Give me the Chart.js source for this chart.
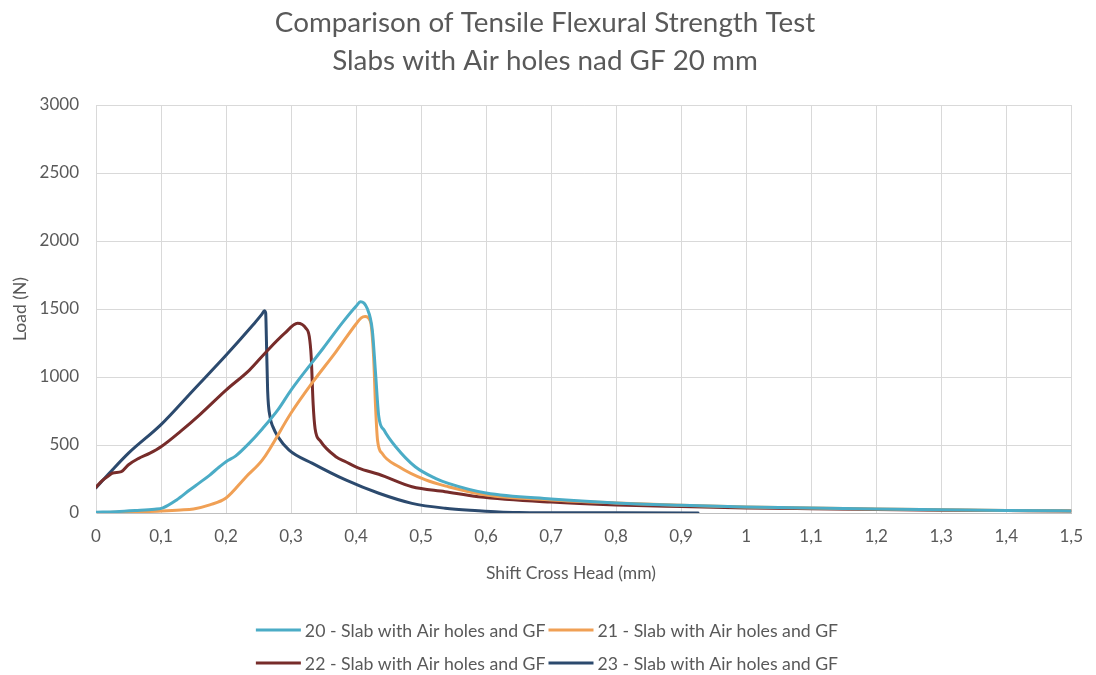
<!DOCTYPE html>
<html>
<head>
<meta charset="utf-8">
<script src="https://cdn.jsdelivr.net/npm/chart.js@4/dist/chart.umd.min.js"></script>
<style>
  html, body { margin: 0; padding: 0; background: #ffffff; }
  #wrap { width: 1096px; height: 675px; position: relative; }
</style>
</head>
<body>
<div id="wrap"><canvas id="chart" width="1096" height="675"></canvas></div>
<script>
// Series labels
const seriesNames = [
  '20 - Slab with Air holes and GF',
  '21 - Slab with Air holes and GF',
  '22 - Slab with Air holes and GF',
  '23 - Slab with Air holes and GF'
];
const seriesColors = ['#4BACC6', '#F0A055', '#772C2A', '#2C4A6E'];

// Shift cross head (mm) / load (N) for each slab
const shift20 = [0, 0.03, 0.06, 0.09, 0.103, 0.124, 0.144, 0.16, 0.175, 0.19, 0.2, 0.215, 0.235, 0.256, 0.28, 0.3, 0.35, 0.38, 0.4, 0.407, 0.417, 0.425, 0.43, 0.435, 0.443, 0.461, 0.491, 0.522, 0.542, 0.6, 0.7, 0.8, 0.9, 1.0, 1.1, 1.2, 1.3, 1.4, 1.5];
const load20  = [5, 10, 18, 28, 38, 96, 169, 225, 279, 340, 377, 420, 510, 620, 760, 904, 1215, 1405, 1520, 1553, 1505, 1345, 1027, 708, 610, 487, 340, 255, 218, 147, 103, 74, 57, 44, 36, 29, 24, 19, 15];

const shift21 = [0, 0.05, 0.1, 0.13, 0.15, 0.175, 0.2, 0.231, 0.256, 0.3, 0.333, 0.369, 0.4, 0.408, 0.414, 0.422, 0.427, 0.43, 0.433, 0.44, 0.466, 0.507, 0.542, 0.6, 0.7, 0.8, 0.9, 1.0, 1.1, 1.2, 1.3, 1.4, 1.5];
const load21  = [3, 8, 15, 22, 30, 60, 110, 267, 390, 735, 960, 1185, 1390, 1435, 1444, 1410, 1149, 781, 537, 439, 340, 243, 193, 132, 96, 74, 57, 44, 36, 29, 24, 19, 15];

const shift22 = [0, 0.01, 0.021, 0.026, 0.039, 0.05, 0.065, 0.083, 0.1, 0.13, 0.159, 0.2, 0.236, 0.262, 0.29, 0.31, 0.323, 0.328, 0.331, 0.334, 0.337, 0.345, 0.369, 0.384, 0.404, 0.435, 0.486, 0.537, 0.588, 0.7, 0.8, 0.9, 1.0, 1.1, 1.2, 1.3, 1.4, 1.5];
const load22  = [190, 240, 279, 294, 304, 355, 400, 440, 487, 600, 720, 904, 1051, 1186, 1320, 1395, 1358, 1300, 1150, 800, 620, 530, 414, 377, 330, 285, 193, 157, 120, 80, 59, 47, 37, 31, 26, 21, 18, 15];

const shift23 = [0, 0.02, 0.05, 0.1, 0.15, 0.2, 0.24, 0.255, 0.259, 0.261, 0.262, 0.264, 0.268, 0.272, 0.28, 0.297, 0.333, 0.384, 0.435, 0.486, 0.537, 0.588, 0.62, 0.65, 0.7, 0.8, 0.926];
const load23  = [185, 290, 440, 650, 905, 1160, 1375, 1460, 1487, 1470, 1300, 900, 700, 635, 560, 463, 365, 243, 145, 71, 35, 17, 8, 4, 2, 1, 0];

// Axis ticks
const xTicks = [0, 0.1, 0.2, 0.3, 0.4, 0.5, 0.6, 0.7, 0.8, 0.9, 1, 1.1, 1.2, 1.3, 1.4, 1.5];
const xTickLabels = ['0', '0,1', '0,2', '0,3', '0,4', '0,5', '0,6', '0,7', '0,8', '0,9', '1', '1,1', '1,2', '1,3', '1,4', '1,5'];
const yTicks = [0, 500, 1000, 1500, 2000, 2500, 3000];
const yTickLabels = ['0', '500', '1000', '1500', '2000', '2500', '3000'];

const titleLines = ['Comparison of Tensile Flexural Strength Test', 'Slabs with Air holes nad GF 20 mm'];
const xTitle = 'Shift Cross Head (mm)';
const yTitle = 'Load (N)';

const textColor = '#595959';
const fontFamily = 'Lato, "Open Sans", sans-serif';

function toPoints(xs, ys) {
  return xs.map((x, i) => ({ x: x, y: ys[i] }));
}

const seriesData = [
  toPoints(shift20, load20),
  toPoints(shift21, load21),
  toPoints(shift22, load22),
  toPoints(shift23, load23)
];

// Chart title, x axis title and a two-by-two legend below the plot
const chartTexts = {
  id: 'chartTexts',
  afterDraw(chart) {
    const ctx = chart.ctx;
    const ds = chart.data.datasets;
    ctx.save();
    ctx.fillStyle = textColor;
    ctx.textBaseline = 'middle';
    ctx.textAlign = 'center';

    ctx.font = '27.8px ' + fontFamily;
    titleLines.forEach((t, i) => ctx.fillText(t, 545, 23 + i * 38));

    ctx.font = '17.5px ' + fontFamily;
    ctx.fillText(xTitle, 571, 573);

    const lineLen = 45, gap = 4, itemGap = 3;
    const rowsY = [630, 663];
    ctx.font = '17.7px ' + fontFamily;
    ctx.textAlign = 'left';
    for (let r = 0; r < 2; r++) {
      const items = [ds[r * 2], ds[r * 2 + 1]];
      const widths = items.map(d => lineLen + gap + ctx.measureText(d.label).width);
      const total = widths[0] + itemGap + widths[1];
      let x = 547 - total / 2;
      items.forEach((d, i) => {
        ctx.strokeStyle = d.borderColor;
        ctx.lineWidth = 3;
        ctx.beginPath();
        ctx.moveTo(x, rowsY[r]);
        ctx.lineTo(x + lineLen, rowsY[r]);
        ctx.stroke();
        ctx.fillStyle = textColor;
        ctx.fillText(d.label, x + lineLen + gap, rowsY[r] + 1);
        x += widths[i] + itemGap;
      });
    }
    ctx.restore();
  }
};

new Chart(document.getElementById('chart'), {
  type: 'scatter',
  data: {
    datasets: seriesData.map((pts, i) => ({
      label: seriesNames[i],
      data: pts,
      showLine: true,
      borderColor: seriesColors[i],
      backgroundColor: seriesColors[i],
      borderWidth: 3,
      pointRadius: 0,
      pointHoverRadius: 0,
      cubicInterpolationMode: 'monotone',
      borderCapStyle: 'round',
      borderJoinStyle: 'round'
    }))
  },
  options: {
    responsive: false,
    animation: false,
    layout: { padding: { left: 0, right: 21, top: 105, bottom: 85 } },
    plugins: {
      legend: { display: false },
      tooltip: { enabled: false },
      title: { display: false }
    },
    scales: {
      x: {
        type: 'linear',
        min: 0,
        max: 1.5,
        afterBuildTicks(scale) { scale.ticks = xTicks.map(v => ({ value: v })); },
        afterFit(scale) { scale.height = 77; },
        ticks: {
          callback: (v, i) => xTickLabels[i],
          color: textColor,
          font: { family: fontFamily, size: 17 },
          padding: 13,
          maxRotation: 0,
          autoSkip: false
        },
        grid: { color: '#D9D9D9', lineWidth: 1, drawTicks: false },
        border: { color: '#BFBFBF', width: 1 },
        title: { display: false }
      },
      y: {
        type: 'linear',
        min: 0,
        max: 3000,
        afterBuildTicks(scale) { scale.ticks = yTicks.map(v => ({ value: v })); },
        afterFit(scale) { scale.width = 96; },
        ticks: {
          callback: (v, i) => yTickLabels[i],
          color: textColor,
          font: { family: fontFamily, size: 17 },
          padding: 17
        },
        grid: { color: '#D9D9D9', lineWidth: 1, drawTicks: false },
        border: { color: '#D9D9D9', width: 1 },
        title: {
          display: true,
          text: yTitle,
          color: textColor,
          font: { family: fontFamily, size: 17.5 },
          padding: { top: 10, bottom: 0 }
        }
      }
    }
  },
  plugins: [chartTexts]
});
</script>
</body>
</html>
